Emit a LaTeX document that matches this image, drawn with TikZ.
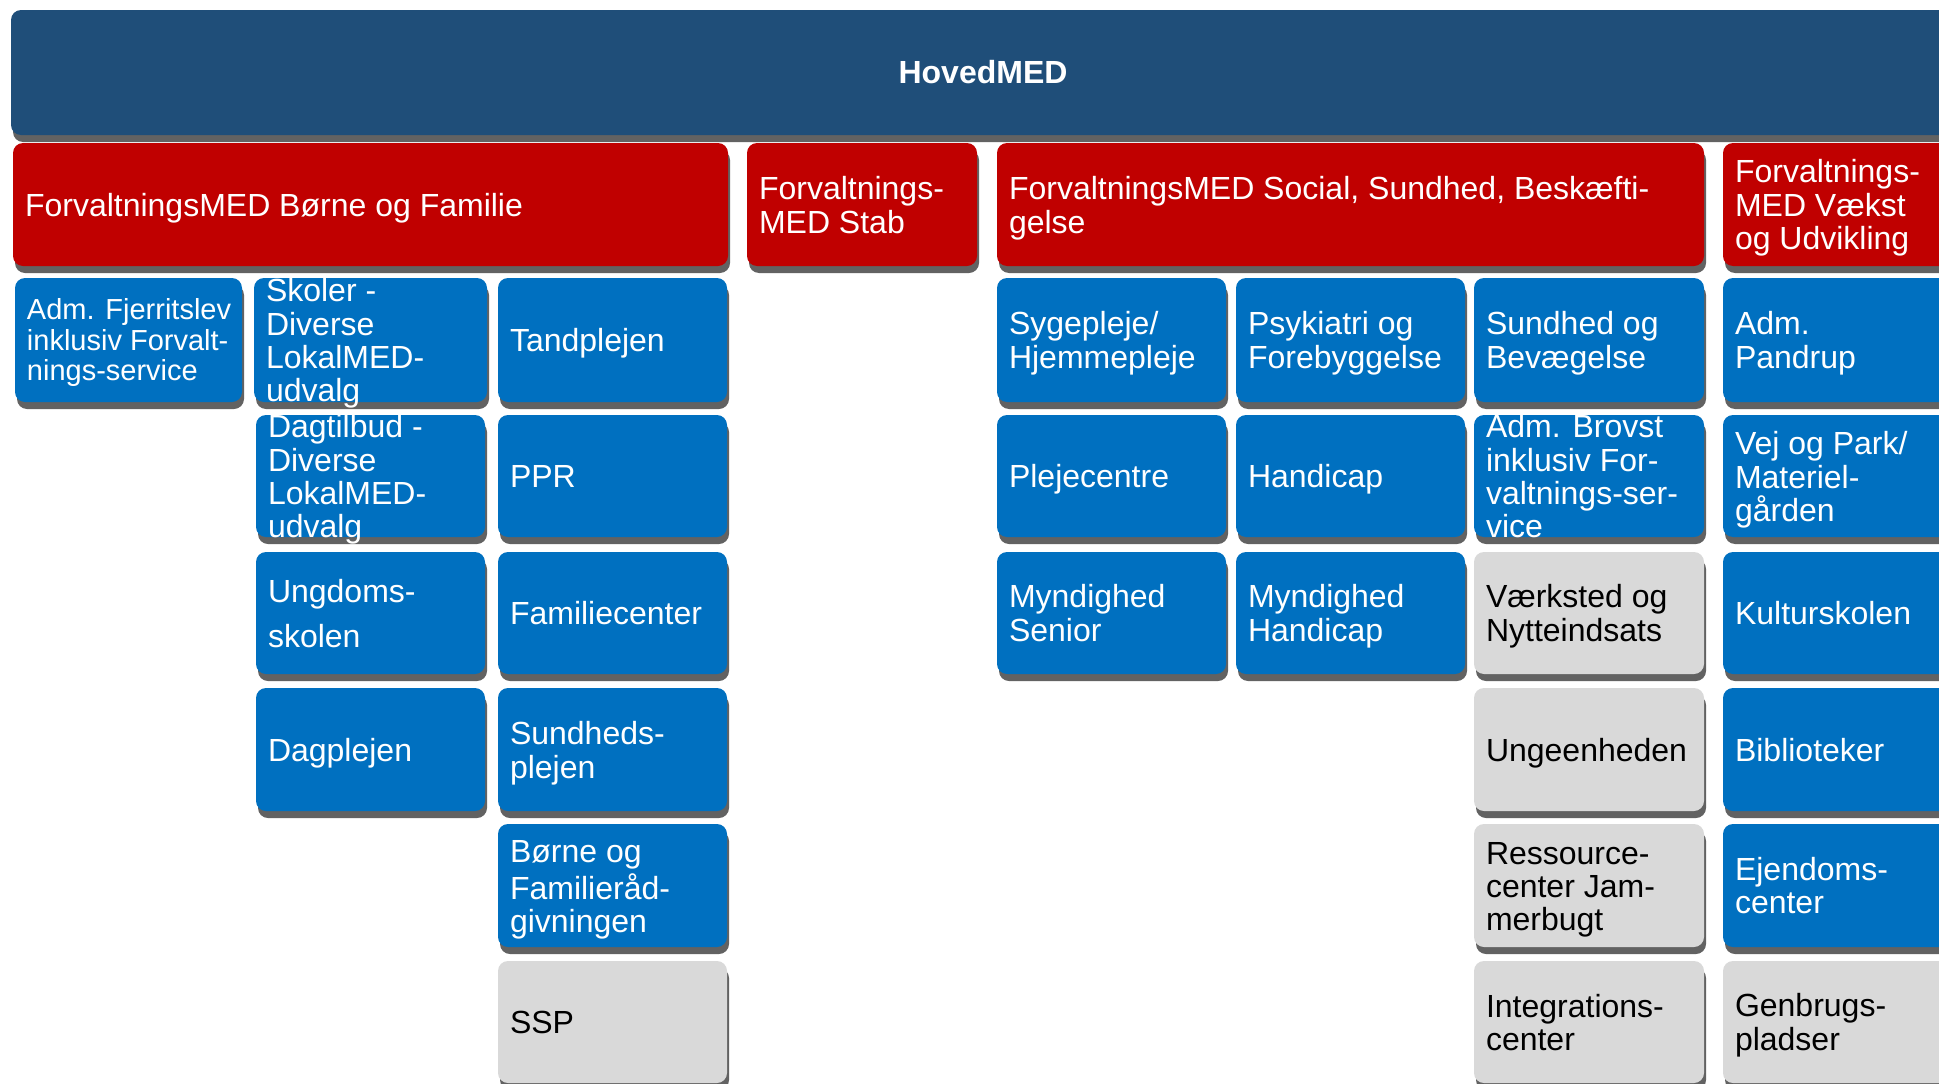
\documentclass[tikz,border=0pt]{standalone}
\usepackage{fontspec}
\setmainfont{Liberation Sans}
\usetikzlibrary{shadows,fit}
\definecolor{hdrc}{RGB}{31,78,121}
\definecolor{redc}{RGB}{192,0,0}
\definecolor{bluec}{RGB}{0,112,192}
\definecolor{grayc}{RGB}{217,217,217}
\definecolor{shadc}{RGB}{98,98,98}
\newcommand\orgbox[6]{%
  \node[#2, fit={(#3) (#4)}] (#1) {};
  \node[#5, anchor=west] (#1-t) at ([xshift=12pt]#1.west) {\strut #6\strut};
}
\tikzset{
  boxbase/.style={rounded corners=10pt, inner sep=0pt, draw=none,
    drop shadow={opacity=1, fill=shadc, shadow xshift=2pt, shadow yshift=-7pt}},
  hdrbox/.style={boxbase, fill=hdrc},
  redbox/.style={boxbase, fill=redc},
  bluebox/.style={boxbase, fill=bluec},
  graybox/.style={boxbase, fill=grayc},
  wtxt/.style={text=white, align=left, inner sep=0pt, yshift=-5.1pt, font=\fontsize{32}{33}\selectfont},
  btxt/.style={text=black, align=left, inner sep=0pt, yshift=-5.1pt, font=\fontsize{32}{33}\selectfont},
  wtxtsmall/.style={text=white, align=left, inner sep=0pt, yshift=-4pt, font=\fontsize{29}{30}\selectfont},
  wtxtwide/.style={text=white, align=left, inner sep=0pt, yshift=-2.6pt, font=\fontsize{32}{45}\selectfont},
}
\begin{document}
\begin{tikzpicture}[x=1pt,y=-1pt]
\path[use as bounding box, fill=white] (0,0) rectangle (1939,1084);
% header
\node[hdrbox, fit={(11,10) (1955,135)}] (hdr) {};
\node[text=white, inner sep=0pt, font=\bfseries\fontsize{32}{33}\selectfont] (hdr-t) at (hdr.center) {HovedMED};
% red row
\orgbox{rBF}{redbox}{13,143}{728,266}{wtxt}{ForvaltningsMED Børne og Familie}
\orgbox{rStab}{redbox}{747,143}{977,266}{wtxt}{Forvaltnings-\\MED Stab}
\orgbox{rSoc}{redbox}{997,143}{1704,266}{wtxt}{ForvaltningsMED Social, Sundhed, Beskæfti-\\gelse}
\orgbox{rVU}{redbox}{1723,143}{1953,266}{wtxt}{Forvaltnings-\\MED Vækst\\og Udvikling}
% column 1
\orgbox{c1a}{bluebox}{15,278}{242,402}{wtxtsmall}{Adm. Fjerritslev\\inklusiv Forvalt-\\nings-service}
% column 2
\orgbox{c2a}{bluebox}{254,278}{487,402}{wtxt}{Skoler -\\Diverse\\LokalMED-\\udvalg}
\orgbox{c2b}{bluebox}{256,415}{485,537}{wtxt}{Dagtilbud -\\Diverse\\LokalMED-\\udvalg}
\orgbox{c2c}{bluebox}{256,552}{485,674}{wtxtwide}{Ungdoms-\\skolen}
\orgbox{c2d}{bluebox}{256,688}{485,811}{wtxt}{Dagplejen}
% column 3
\orgbox{c3a}{bluebox}{498,278}{727,402}{wtxt}{Tandplejen}
\orgbox{c3b}{bluebox}{498,415}{727,537}{wtxt}{PPR}
\orgbox{c3c}{bluebox}{498,552}{727,674}{wtxt}{Familiecenter}
\orgbox{c3d}{bluebox}{498,688}{727,811}{wtxt}{Sundheds-\\plejen}
\orgbox{c3e}{bluebox}{498,824}{727,947}{wtxt}{Børne og\\Familieråd-\\givningen}
\orgbox{c3f}{graybox}{498,961}{727,1083}{btxt}{SSP}
% column 5
\orgbox{c5a}{bluebox}{997,278}{1226,402}{wtxt}{Sygepleje/\\Hjemmepleje}
\orgbox{c5b}{bluebox}{997,415}{1226,537}{wtxt}{Plejecentre}
\orgbox{c5c}{bluebox}{997,552}{1226,674}{wtxt}{Myndighed\\Senior}
% column 6
\orgbox{c6a}{bluebox}{1236,278}{1465,402}{wtxt}{Psykiatri og\\Forebyggelse}
\orgbox{c6b}{bluebox}{1236,415}{1465,537}{wtxt}{Handicap}
\orgbox{c6c}{bluebox}{1236,552}{1465,674}{wtxt}{Myndighed\\Handicap}
% column 7
\orgbox{c7a}{bluebox}{1474,278}{1704,402}{wtxt}{Sundhed og\\Bevægelse}
\orgbox{c7b}{bluebox}{1474,415}{1704,537}{wtxt}{Adm. Brovst\\inklusiv For-\\valtnings-ser-\\vice}
\orgbox{c7c}{graybox}{1474,552}{1704,674}{btxt}{Værksted og\\Nytteindsats}
\orgbox{c7d}{graybox}{1474,688}{1704,811}{btxt}{Ungeenheden}
\orgbox{c7e}{graybox}{1474,824}{1704,947}{btxt}{Ressource-\\center Jam-\\merbugt}
\orgbox{c7f}{graybox}{1474,961}{1704,1083}{btxt}{Integrations-\\center}
% column 8
\orgbox{c8a}{bluebox}{1723,278}{1953,402}{wtxt}{Adm.\\Pandrup}
\orgbox{c8b}{bluebox}{1723,415}{1953,537}{wtxt}{Vej og Park/\\Materiel-\\gården}
\orgbox{c8c}{bluebox}{1723,552}{1953,674}{wtxt}{Kulturskolen}
\orgbox{c8d}{bluebox}{1723,688}{1953,811}{wtxt}{Biblioteker}
\orgbox{c8e}{bluebox}{1723,824}{1953,947}{wtxt}{Ejendoms-\\center}
\orgbox{c8f}{graybox}{1723,961}{1953,1083}{btxt}{Genbrugs-\\pladser}
\end{tikzpicture}
\end{document}
